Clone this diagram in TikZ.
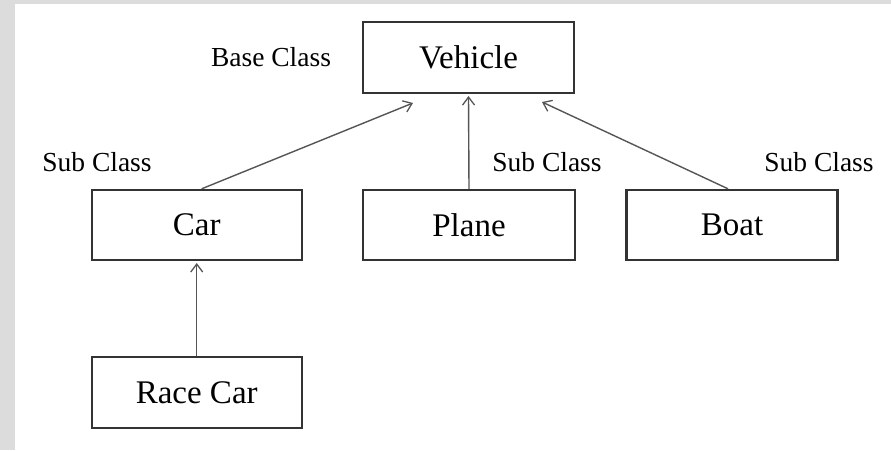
\documentclass[tikz,border=0pt]{standalone}
\usepackage{fontspec}
\setmainfont{Liberation Serif}
\usetikzlibrary{arrows.meta}
\definecolor{bordergray}{HTML}{DCDCDC}
\definecolor{linecol}{HTML}{333333}
\definecolor{arrowcol}{HTML}{555555}
\begin{document}
\begin{tikzpicture}[x=1pt,y=1pt,
  classbox/.style={draw=linecol,line width=2.4pt,minimum width=210pt,minimum height=70pt,inner sep=0pt,font=\fontsize{33}{36}\selectfont},
  lbl/.style={inner sep=0pt,font=\fontsize{27.5}{30}\selectfont},
  inherit/.style={draw=arrowcol,line width=1.4pt,-{Straight Barb[length=8pt,width=12pt,line width=1.3pt]}}]
\fill[bordergray] (0,0) rectangle (891,450);
\fill[white] (15,0) rectangle (891,446);
\useasboundingbox (0,0) rectangle (891,450);
\node[classbox,minimum width=211pt,minimum height=71pt] (vehicle) at (468.5,392.3) {Vehicle};
\node[classbox] (car) at (196.7,225) {Car};
\node[classbox,minimum width=212pt] (plane) at (469,225) {Plane};
\node[classbox,minimum width=211pt] (boat) at (732,225) {Boat};
\node[classbox,minimum height=71pt] (racecar) at (196.7,57.5) {Race Car};
\node[lbl] (lbase) at (271,393) {Base Class};
\node[lbl] (lsub1) at (97,288) {Sub Class};
\node[lbl] (lsub2) at (547,288) {Sub Class};
\node[lbl] (lsub3) at (819,288) {Sub Class};
\coordinate (tcar) at (413,347);
\coordinate (tplane) at (468.5,354);
\coordinate (tboat) at (542,348);
\coordinate (tracecar) at (196.7,187);
\draw[inherit] ([xshift=5pt]car.north) -- (tcar);
\draw[inherit] (plane.north) -- (tplane);
\draw[inherit] ([xshift=-4pt]boat.north) -- (tboat);
\draw[inherit] (racecar.north) -- (tracecar);
\end{tikzpicture}
\end{document}
